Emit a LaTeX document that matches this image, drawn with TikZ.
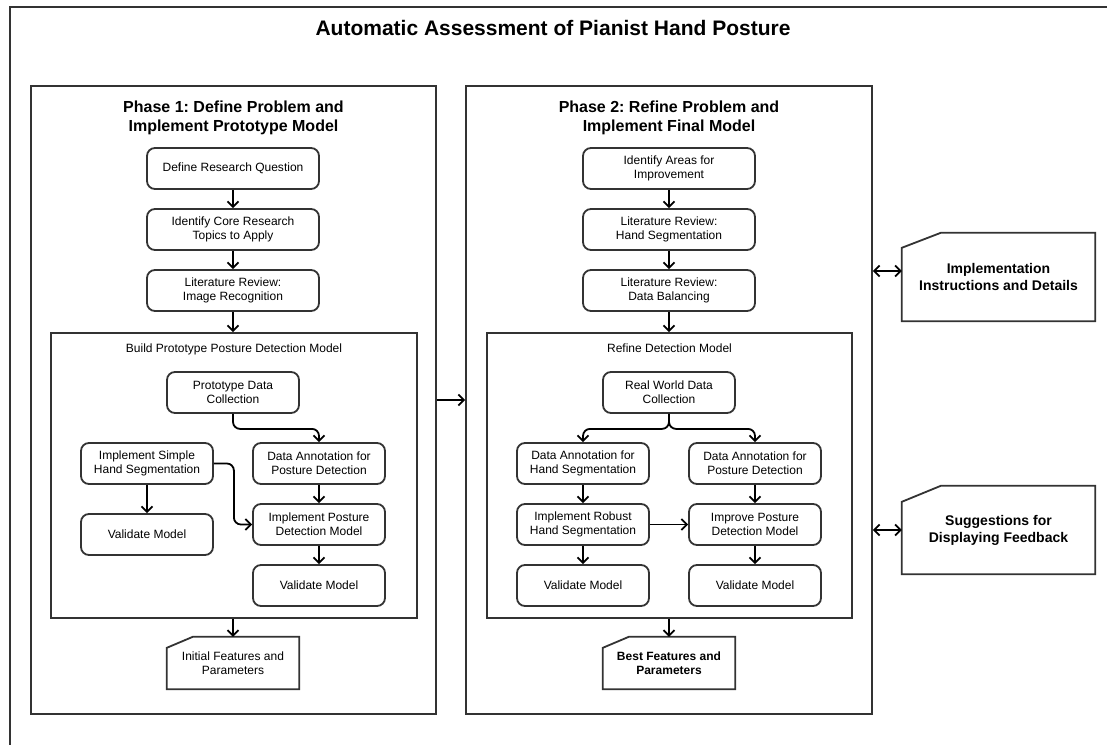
\documentclass[tikz,border=0pt]{standalone}
\usepackage{fontspec}
\setmainfont{Liberation Sans}
\usetikzlibrary{arrows.meta}
\frenchspacing

\definecolor{edgegray}{HTML}{333333}

\tikzset{
  framebox/.style={draw=edgegray, line width=1.8pt, inner sep=0pt},
  stepbox/.style={draw=edgegray, line width=1.8pt, rounded corners=8pt,
    align=center, inner sep=2pt, minimum height=41pt,
    font=\fontsize{12}{14.4}\selectfont},
  widebox/.style={stepbox, minimum width=172pt},
  narrowbox/.style={stepbox, minimum width=132pt},
  docnode/.style={align=center, inner sep=0pt},
  docline/.style={draw=edgegray, line width=1.8pt, line join=miter},
  tip/.style={},
  arr/.style={draw=black, line width=1.8pt,
    -{Straight Barb[length=5.5pt,width=11pt,line width=1.8pt]}},
  dblarr/.style={draw=black, line width=1.8pt,
    {Straight Barb[length=5.5pt,width=11pt,line width=1.8pt]}-{Straight Barb[length=5.5pt,width=11pt,line width=1.8pt]}},
  phasetitle/.style={align=center, font=\bfseries\fontsize{16}{19}\selectfont},
  grouptitle/.style={font=\fontsize{12}{14.4}\selectfont},
}

\begin{document}
\begin{tikzpicture}[x=1pt,y=-1pt]
\useasboundingbox (0,0) rectangle (1107,744);
\clip (0,0) rectangle (1107,744);

% outer frame and title
\draw[framebox] (10,7) rectangle (1130,770);
\node[font=\bfseries\fontsize{21}{25}\selectfont] (title) at (553,28)
  {Automatic Assessment of Pianist Hand Posture};

% ---------------- Phase 1 ----------------
\node[framebox, minimum width=405pt, minimum height=628pt] (ph1) at (233.5,400) {};
\node[phasetitle] (ph1t) at (233.5,118) {Phase 1: Define Problem and\\Implement Prototype Model};

\node[widebox] (drq)  at (233,168.5) {Define Research Question};
\node[widebox] (icr)  at (233,229.5) {Identify Core Research\\Topics to Apply};
\node[widebox] (lrir) at (233,290.5) {Literature Review:\\Image Recognition};

\node[framebox, minimum width=366pt, minimum height=285pt] (build) at (234,475.5) {};
\node[grouptitle] (buildt) at (234,349) {Build Prototype Posture Detection Model};

\node[narrowbox] (pdc)   at (233,392.5) {Prototype Data\\Collection};
\node[narrowbox] (ishs)  at (147,463.5) {Implement Simple\\Hand Segmentation};
\node[narrowbox] (dap1)  at (319,463.5) {Data Annotation for\\Posture Detection};
\node[narrowbox] (ipdm)  at (319,524.5) {Implement Posture\\Detection Model};
\node[narrowbox] (vm1a)  at (147,534.5) {Validate Model};
\node[narrowbox] (vm1b)  at (319,585.5) {Validate Model};

\node[docnode, minimum width=132pt, minimum height=52pt,
  font=\fontsize{12}{14.4}\selectfont] (ifp) at (233,663) {Initial Features and\\Parameters};
\draw[docline] ([yshift=-11pt]ifp.north west) -- ([xshift=26pt]ifp.north west)
  -- (ifp.north east) -- (ifp.south east) -- (ifp.south west) -- cycle;

\draw[arr] (drq) -- (icr);
\draw[arr] (icr) -- (lrir);
\draw[arr] (lrir.south) -- (lrir.south |- build.north);
\draw[arr, rounded corners=7pt] (pdc.south) -- ++(0,15) -| (dap1.north);
\draw[arr, rounded corners=7pt] (ishs.east) -- ++(20,0) |- (ipdm.west);
\draw[arr] (ishs) -- (ishs.south |- vm1a.north);
\draw[arr] (dap1) -- (ipdm);
\draw[arr] (ipdm) -- (vm1b);
\draw[arr] (ifp.north |- build.south) -- (ifp.north);

% ---------------- Phase 2 ----------------
\node[framebox, minimum width=406pt, minimum height=628pt] (ph2) at (669,400) {};
\node[phasetitle] (ph2t) at (669,118) {Phase 2: Refine Problem and\\Implement Final Model};

\node[widebox] (iai)  at (669,168.5) {Identify Areas for\\Improvement};
\node[widebox] (lrhs) at (669,229.5) {Literature Review:\\Hand Segmentation};
\node[widebox] (lrdb) at (669,290.5) {Literature Review:\\Data Balancing};

\node[framebox, minimum width=365pt, minimum height=285pt] (refine) at (669.5,475.5) {};
\node[grouptitle] (refinet) at (669.5,348) {Refine Detection Model};

\node[narrowbox] (rwdc)  at (669,392.5) {Real World Data\\Collection};
\node[narrowbox] (dahs)  at (583,463.5) {Data Annotation for\\Hand Segmentation};
\node[narrowbox] (dap2)  at (755,463.5) {Data Annotation for\\Posture Detection};
\node[narrowbox] (irhs)  at (583,524.5) {Implement Robust\\Hand Segmentation};
\node[narrowbox] (ipdm2) at (755,524.5) {Improve Posture\\Detection Model};
\node[narrowbox] (vm2a)  at (583,585.5) {Validate Model};
\node[narrowbox] (vm2b)  at (755,585.5) {Validate Model};

\node[docnode, minimum width=132pt, minimum height=52pt,
  font=\bfseries\fontsize{12}{14.4}\selectfont] (bfp) at (669,663) {Best Features and\\Parameters};
\draw[docline] ([yshift=-11pt]bfp.north west) -- ([xshift=26pt]bfp.north west)
  -- (bfp.north east) -- (bfp.south east) -- (bfp.south west) -- cycle;

\draw[arr] (iai) -- (lrhs);
\draw[arr] (lrhs) -- (lrdb);
\draw[arr] (lrdb.south) -- (lrdb.south |- refine.north);
\draw[arr, rounded corners=7pt] (rwdc.south) -- ++(0,15) -| (dahs.north);
\draw[arr, rounded corners=7pt] (rwdc.south) -- ++(0,15) -| (dap2.north);
\draw[arr] (dahs) -- (irhs);
\draw[arr] (dap2) -- (ipdm2);
\draw[arr] (irhs) -- (ipdm2);
\draw[arr] (irhs) -- (vm2a);
\draw[arr] (ipdm2) -- (vm2b);
\draw[arr] (bfp.north |- refine.south) -- (bfp.north);

% phase hand-over
\draw[arr] (ph1.east) -- (ph2.west);

% ---------------- supporting documents ----------------
\node[docnode, minimum width=193pt, minimum height=88pt,
  font=\bfseries\fontsize{14}{17}\selectfont] (iid) at (998.5,277) {Implementation\\Instructions and Details};
\draw[docline] ([yshift=-15pt]iid.north west) -- ([xshift=39pt]iid.north west)
  -- (iid.north east) -- (iid.south east) -- (iid.south west) -- cycle;

\node[docnode, minimum width=193pt, minimum height=88pt,
  font=\bfseries\fontsize{14}{17}\selectfont] (sdf) at (998.5,530) {Suggestions for\\Displaying Feedback};
\draw[docline] ([yshift=-16pt]sdf.north west) -- ([xshift=39pt]sdf.north west)
  -- (sdf.north east) -- (sdf.south east) -- (sdf.south west) -- cycle;

\coordinate (iidlink) at ([yshift=6pt]iid.west);
\draw[dblarr] (ph2.east |- iidlink) -- (iidlink);
\draw[dblarr] (ph2.east |- sdf.west) -- (sdf.west);

\end{tikzpicture}
\end{document}
